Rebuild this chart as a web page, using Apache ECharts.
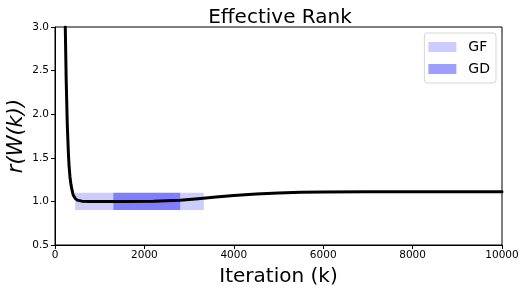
<!DOCTYPE html>
<html><head><meta charset="utf-8">
<script src="https://cdn.jsdelivr.net/npm/echarts@6/dist/echarts.min.js"></script>
<style>html,body{margin:0;padding:0;background:#fff}#c{width:524px;height:292px}</style>
</head><body><div id="c"></div>
<script>
var iterations = [230, 250, 275, 300, 313, 335, 358, 385, 410, 450, 500, 600, 800, 1500, 2200, 2800, 3200, 3600, 4000, 4500, 5000, 5500, 6000, 7000, 8000, 10000];
var effRank = [3.0, 2.4, 1.88, 1.55, 1.42, 1.28, 1.19, 1.12, 1.07, 1.035, 1.015, 1.003, 1.0, 1.0, 1.002, 1.012, 1.03, 1.05, 1.068, 1.085, 1.097, 1.104, 1.108, 1.11, 1.111, 1.111];
var gfBox = [450, 3330, 0.9, 1.1];
var gdBox = [1305, 2800, 0.9, 1.1];
var xTicks = [0, 2000, 4000, 6000, 8000, 10000];
var yTicks = [0.5, 1.0, 1.5, 2.0, 2.5, 3.0];

var font = 'DejaVu Sans';
function rectSeries(name, box, color) {
  return {
    name: name, type: 'custom', z: 1,
    itemStyle: {color: color},
    data: [box],
    renderItem: function (params, api) {
      var p0 = api.coord([api.value(0), api.value(3)]);
      var p1 = api.coord([api.value(1), api.value(2)]);
      return {type: 'rect', shape: {x: p0[0], y: p0[1], width: p1[0] - p0[0], height: p1[1] - p0[1]},
        style: {fill: color}};
    }
  };
}
var chart = echarts.init(document.getElementById('c'), null, {renderer: 'canvas'});
chart.setOption({
  animation: false,
  backgroundColor: '#fff',
  title: {text: 'Effective Rank', left: 275, textAlign: 'center', top: 3,
    textStyle: {fontFamily: font, fontSize: 20, fontWeight: 'normal', color: '#000'}},
  grid: {left: 55, right: 22, top: 27, bottom: 47, show: true, borderColor: '#000', borderWidth: 1,
    backgroundColor: 'transparent', containLabel: false, outerBoundsMode: 'none'},
  legend: {
    orient: 'vertical', right: 28, top: 33, itemWidth: 28, itemHeight: 10, itemGap: 8,
    backgroundColor: '#fff', borderColor: '#d6d6d6', borderWidth: 1, borderRadius: 3,
    padding: [7, 6, 7, 4],
    textStyle: {fontFamily: font, fontSize: 14, color: '#000', padding: [0, 0, 0, 7]},
    data: [{name: 'GF', icon: 'rect'}, {name: 'GD', icon: 'rect'}]
  },
  xAxis: {
    type: 'value', min: 0, max: 10000, interval: 2000,
    name: 'Iteration (k)', nameLocation: 'middle', nameGap: 22,
    nameTextStyle: {fontFamily: font, fontSize: 20, color: '#000'},
    axisLine: {show: true, onZero: false, lineStyle: {color: '#000', width: 1}},
    axisTick: {show: true, length: 4, lineStyle: {color: '#000'}},
    axisLabel: {fontFamily: font, fontSize: 10.5, color: '#000', margin: 5,
      formatter: function (v) { return xTicks.indexOf(v) >= 0 ? String(v) : ''; }},
    splitLine: {show: false}
  },
  yAxis: {
    type: 'value', min: 0.5, max: 3.0, interval: 0.5,
    name: 'r(W(k))', nameLocation: 'middle', nameGap: 28, nameRotate: 90, nameMoveOverlap: false,
    nameTextStyle: {fontFamily: font, fontSize: 21, fontStyle: 'italic', color: '#000'},
    axisLine: {show: true, onZero: false, lineStyle: {color: '#000', width: 1}},
    axisTick: {show: true, length: 4, lineStyle: {color: '#000'}},
    axisLabel: {fontFamily: font, fontSize: 10.5, color: '#000', margin: 6,
      formatter: function (v) { return yTicks.indexOf(v) >= 0 ? v.toFixed(1) : ''; }},
    splitLine: {show: false}
  },
  series: [
    rectSeries('GF', gfBox, 'rgba(0,0,255,0.2)'),
    rectSeries('GD', gdBox, 'rgba(0,0,255,0.38)'),
    {
      name: 'rank', type: 'line', z: 5, showSymbol: false, smooth: false,
      lineStyle: {color: '#000', width: 3, join: 'round', cap: 'round'}, itemStyle: {color: '#000'},
      data: iterations.map(function (x, i) { return [x, effRank[i]]; }),
      clip: true
    }
  ]
});
</script></body></html>
